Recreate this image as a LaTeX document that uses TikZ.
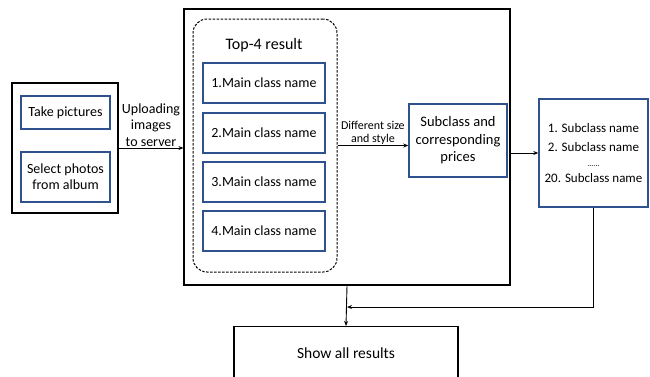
\documentclass[tikz,border=0pt]{standalone}
\usepackage{fontspec}
\setmainfont{Carlito}
\usepackage{xcolor}
\usetikzlibrary{positioning, arrows.meta}
\definecolor{boxblue}{RGB}{47,82,143}
\tikzset{
x=1pt, y=-1pt, % one unit is one pixel of the layout, y going down
>={Stealth[length=5pt,width=4pt]}, % small bold arrow heads
frame/.style={draw, line width=1.1pt, inner sep=0pt}, % black outer boxes
bluebox/.style={draw=boxblue, line width=1.4pt, align=center, inner sep=0pt, font=\fontsize{14}{16}\selectfont}, % blue inner boxes
note/.style={align=center, inner sep=1pt, font=\fontsize{12}{13}\selectfont}, % text on the arrows
}

\begin{document}
\begin{tikzpicture}
    \useasboundingbox (0,0) rectangle (650,376);

    % input side
    \node[frame, minimum width=106pt, minimum height=130pt] (input) at (65,148) {};
    \node[bluebox, minimum width=89pt, minimum height=33pt] (take) at (65.5,112.5) {Take pictures};
    \node[bluebox, minimum width=89pt, minimum height=50pt] (select) at (65.5,177) {Select photos\\from album};

    % recognition block
    \node[frame, minimum width=326pt, minimum height=276pt] (server) at (347,147) {};
    \node[draw, dash pattern=on 2.5pt off 1.5pt, rounded corners=14pt, line width=1pt, minimum width=144pt, minimum height=253pt] (top) at (265,145.5) {};
    \node[font=\fontsize{16}{18}\selectfont] (toptitle) at (264,45) {Top-4 result};
    \foreach \i/\y in {1/83, 2/133, 3/182, 4/231}
        \node[bluebox, minimum width=122pt, minimum height=40pt] (main\i) at (264,\y) {\i.Main class name};
    \node[bluebox, minimum width=98pt, minimum height=73pt, font=\fontsize{14.5}{17.5}\selectfont] (sub) at (458,140.5) {Subclass and\\corresponding\\prices};

    % output side
    \node[bluebox, minimum width=109pt, minimum height=108pt, font=\fontsize{13}{19}\selectfont] (list) at (593.5,153)
        {1. Subclass name\\2. Subclass name\\[-4pt]{\footnotesize......}\\[-3pt]20. Subclass name};
    \node[frame, minimum width=224pt, minimum height=56pt, anchor=north] (show) at (346,326) {};
    \node[font=\fontsize{15.5}{18}\selectfont] (showtext) at (346,353) {Show all results};
    \coordinate (join) at (347,307);

    \draw[->, line width=0.9pt] (input.east) -- node[note, above, font=\fontsize{14}{16.5}\selectfont] {Uploading\\images\\to server} (input.east -| server.west);
    \draw[->, line width=0.9pt] (top.east) -- node[note, above] {Different size\\and style} (top.east -| sub.west);
    \draw[->, line width=0.9pt] (list.west -| server.east) -- (list.west);
    \draw[->, line width=0.9pt] (list.south) |- (join);
    \draw[->, line width=0.9pt] (server.south) -- (show.north);
\end{tikzpicture}
\end{document}
